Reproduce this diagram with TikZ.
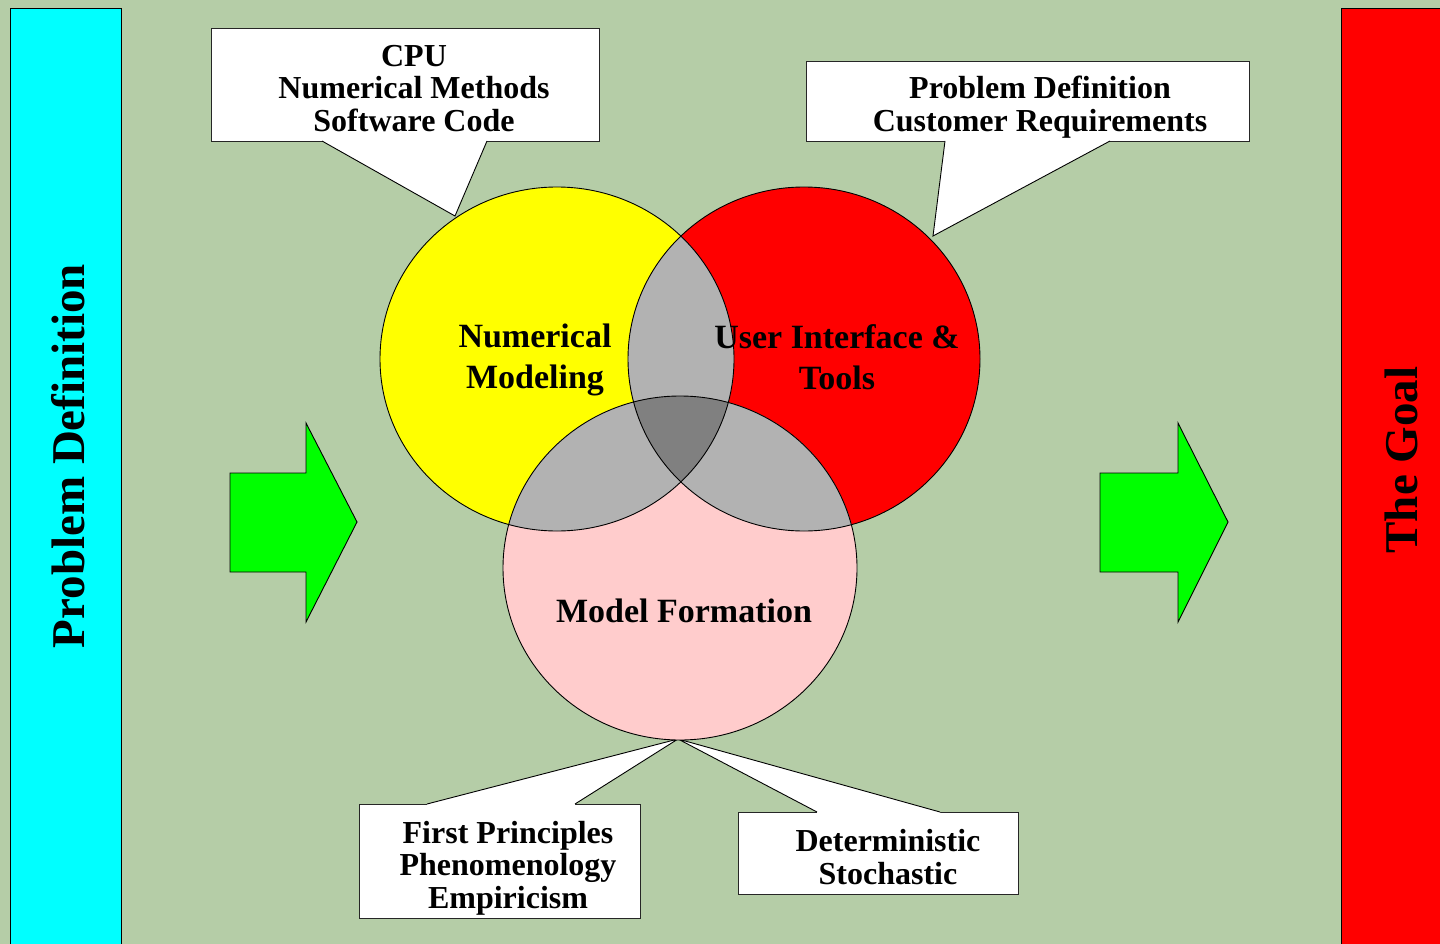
\documentclass[tikz,border=0pt]{standalone}
\usepackage{fontspec}
\setmainfont{Liberation Serif}
\definecolor{bgc}{RGB}{181,205,167}
\definecolor{pinkc}{RGB}{255,204,204}
\definecolor{grayc}{RGB}{178,178,178}
\definecolor{dgrayc}{RGB}{128,128,128}
\definecolor{greenc}{RGB}{0,255,0}
\definecolor{cyanc}{RGB}{0,255,255}
\definecolor{redc}{RGB}{255,0,0}
\definecolor{yellowc}{RGB}{255,255,0}
\begin{document}
\begin{tikzpicture}[x=1pt,y=-1pt,
  edge/.style={draw=black,line width=0.9pt},
  barbox/.style={draw=black,line width=0.8pt,anchor=north west,minimum width=111pt,minimum height=940pt,inner sep=0pt,outer sep=0pt},
  boxstyle/.style={draw=black!85,line width=0.9pt,fill=white,inner sep=0pt,outer sep=0pt},
  tailline/.style={draw=black,line width=0.9pt,line join=miter},
  calltext/.style={font=\bfseries\fontsize{32}{32.5}\selectfont,align=center,inner sep=0pt},
  venntext/.style={font=\bfseries\fontsize{34}{41}\selectfont,align=center,inner sep=0pt},
  bartext/.style={font=\bfseries\fontsize{47}{47}\selectfont,inner sep=0pt,rotate=90,anchor=base},
  arrowshape/.style={fill=greenc,draw=black,line width=0.9pt,line join=miter},
]
\useasboundingbox (0,0) rectangle (1440,944);
\fill[bgc] (0,0) rectangle (1440,944);

% side bars
\node[barbox,fill=cyanc] (pdBar) at (10,8) {};
\node[barbox,fill=redc] (goalBar) at (1341,8) {};
\node[bartext] (pdTxt) at (84,456) {Problem Definition};
\node[bartext] (goalTxt) at (1417,460) {The Goal};

% green arrows
\draw[arrowshape] (230,473) -- (306,473) -- (306,423) -- (357,522) -- (306,622) -- (306,572) -- (230,572) -- cycle;
\draw[arrowshape] (1100,473) -- (1178,473) -- (1178,423) -- (1228,522) -- (1178,622) -- (1178,572) -- (1100,572) -- cycle;

% callout boxes
\node[boxstyle,minimum width=388pt,minimum height=113pt] (cpuBox) at (405,84.5) {};
\node[boxstyle,minimum width=443pt,minimum height=80pt] (reqBox) at (1027.5,101) {};
\node[boxstyle,minimum width=281pt,minimum height=114pt] (fpBox) at (499.5,861) {};
\node[boxstyle,minimum width=280pt,minimum height=82pt] (detBox) at (878,853) {};

\coordinate (cpuB1) at (322,141);
\coordinate (cpuB2) at (487,141);
\coordinate (cpuTip) at (455,216);
\coordinate (reqB1) at (945,141);
\coordinate (reqB2) at (1110,141);
\coordinate (reqTip) at (933,236);
\coordinate (fpB1) at (427,804);
\coordinate (fpB2) at (575,804);
\coordinate (detB1) at (817,812);
\coordinate (detB2) at (940,812);
\coordinate (mfTip) at (678,739);

\fill[white] (cpuB1) -- (cpuTip) -- (cpuB2) -- ([yshift=2pt]cpuB2) -- ([yshift=2pt]cpuB1) -- cycle;
\draw[tailline] (cpuB1) -- (cpuTip) -- (cpuB2);
\fill[white] (reqB1) -- (reqTip) -- (reqB2) -- ([yshift=2pt]reqB2) -- ([yshift=2pt]reqB1) -- cycle;
\draw[tailline] (reqB1) -- (reqTip) -- (reqB2);
\fill[white] (fpB1) -- (mfTip) -- (fpB2) -- ([yshift=-2pt]fpB2) -- ([yshift=-2pt]fpB1) -- cycle;
\draw[tailline] (fpB1) -- (mfTip) -- (fpB2);
\fill[white] (detB1) -- (mfTip) -- (detB2) -- ([yshift=-2pt]detB2) -- ([yshift=-2pt]detB1) -- cycle;
\draw[tailline] (detB1) -- (mfTip) -- (detB2);

\node[calltext] (cpuTxt) at (414,88.5) {CPU\\Numerical Methods\\Software Code};
\node[calltext] (reqTxt) at (1040,107) {Problem Definition\\Customer Requirements};
\node[calltext] (fpTxt) at (508,868) {First Principles\\Phenomenology\\Empiricism};
\node[calltext] (detTxt) at (888,857) {Deterministic\\Stochastic};

% Venn diagram
\fill[yellowc] (557,359) ellipse [x radius=177pt, y radius=172pt];
\fill[redc] (804,359) ellipse [x radius=176pt, y radius=172pt];
\fill[pinkc] (680,568) ellipse [x radius=177pt, y radius=172pt];
\begin{scope}
  \clip (557,359) ellipse [x radius=177pt, y radius=172pt];
  \fill[grayc] (804,359) ellipse [x radius=176pt, y radius=172pt];
  \fill[grayc] (680,568) ellipse [x radius=177pt, y radius=172pt];
\end{scope}
\begin{scope}
  \clip (804,359) ellipse [x radius=176pt, y radius=172pt];
  \fill[grayc] (680,568) ellipse [x radius=177pt, y radius=172pt];
\end{scope}
\begin{scope}
  \clip (557,359) ellipse [x radius=177pt, y radius=172pt];
  \clip (804,359) ellipse [x radius=176pt, y radius=172pt];
  \fill[dgrayc] (680,568) ellipse [x radius=177pt, y radius=172pt];
\end{scope}
\draw[edge] (557,359) ellipse [x radius=177pt, y radius=172pt];
\draw[edge] (804,359) ellipse [x radius=176pt, y radius=172pt];
\draw[edge] (680,568) ellipse [x radius=177pt, y radius=172pt];

\node[venntext] (nmTxt) at (535,360) {Numerical\\Modeling};
\node[venntext] (uiTxt) at (837,357) {User Interface \&\\Tools};
\node[venntext,anchor=base] (mfTxt) at (684,622) {Model Formation};
\end{tikzpicture}
\end{document}
